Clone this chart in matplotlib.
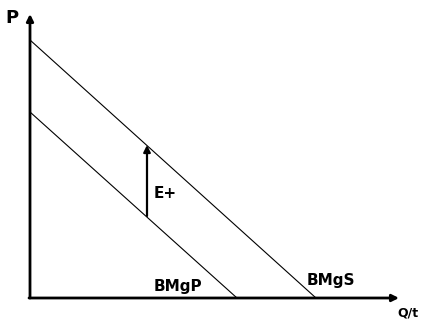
import matplotlib
matplotlib.use("Agg")
import matplotlib.pyplot as plt

# demand / marginal benefit curves (Q intercept, P intercept)
bmgs_q = [0, 286]
bmgs_p = [258, 0]
bmgp_q = [0, 207]
bmgp_p = [186, 0]

# shift arrow E+
arrow_q = 117
arrow_p = [82, 153]

plt.rcParams['font.family'] = ['DejaVu Sans']

fig = plt.figure(figsize=(4.27, 3.21), dpi=100)
ax = fig.add_axes([0, 0, 1, 1])
ax.set_xlim(-30, 397)
ax.set_ylim(-23, 298)
ax.axis('off')

# axes with arrow heads
ax.annotate('', xy=(0, 284), xytext=(0, 0),
            arrowprops=dict(arrowstyle='-|>', lw=2, color='black',
                            mutation_scale=10, shrinkA=0, shrinkB=0))
ax.annotate('', xy=(369, 0), xytext=(-1, 0),
            arrowprops=dict(arrowstyle='-|>', lw=2, color='black',
                            mutation_scale=10, shrinkA=0, shrinkB=0))

ax.plot(bmgs_q, bmgs_p, color='black', lw=0.8)
ax.plot(bmgp_q, bmgp_p, color='black', lw=0.8)

ax.annotate('', xy=(arrow_q, arrow_p[1]), xytext=(arrow_q, arrow_p[0]),
            arrowprops=dict(arrowstyle='-|>', lw=1.6, color='black',
                            mutation_scale=10, shrinkA=0, shrinkB=0))

ax.text(-25, 289, 'P', fontsize=13, fontweight='bold', va='top', ha='left')
ax.text(367, -19, 'Q/t', fontsize=9, fontweight='bold', va='baseline', ha='left')
ax.text(124, 105, 'E+', fontsize=11, fontweight='bold', va='center', ha='left')
ax.text(124, 11, 'BMgP', fontsize=11, fontweight='bold', va='center', ha='left')
ax.text(277, 17, 'BMgS', fontsize=11, fontweight='bold', va='center', ha='left')

fig.savefig('out.png', dpi=100)
